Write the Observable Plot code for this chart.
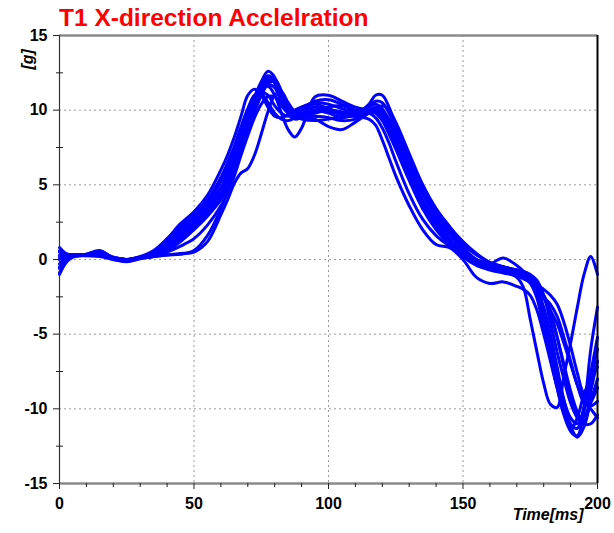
<!DOCTYPE html>
<html>
<head>
<meta charset="utf-8">
<script src="https://cdn.jsdelivr.net/npm/d3@7"></script>
<script src="https://cdn.jsdelivr.net/npm/@observablehq/plot@0.6"></script>
<style>
  html, body { margin: 0; padding: 0; background: #ffffff; }
  #title { height: 28px; box-sizing: border-box; padding-top: 6px; padding-left: 59px;
    font: bold 24.5px "Liberation Sans", Arial, sans-serif; line-height: 24px; color: #ff0000; white-space: nowrap; }
</style>
</head>
<body>
<div id="title">T1 X-direction Acclelration</div>
<div id="chart"></div>
<script>
const titleText = "T1 X-direction Acclelration";
const yLabel = "[g]";
const xLabel = "Time[ms]";
const xDomain = [0, 200];
const yDomain = [-15, 15];
const xMajorTicks = [0, 50, 100, 150, 200];
const xMinorTicks = [10, 20, 30, 40, 60, 70, 80, 90, 110, 120, 130, 140, 160, 170, 180, 190];
const yMajorTicks = [-15, -10, -5, 0, 5, 10, 15];
const yMinorTicks = [-12.5, -7.5, -2.5, 2.5, 7.5, 12.5];
const xGrid = [50, 100, 150];
const yGrid = [-10, -5, 0, 5, 10];

// sample times (ms)
const T = [0, 2.5, 5, 7.5, 10,
  15, 20, 25, 30, 35, 40, 45, 50, 55, 60,
  62.5, 65, 67.5, 70, 72.5, 75, 77.5, 80, 82.5, 85, 87.5, 90,
  95, 100, 105, 110, 115,
  117.5, 120, 122.5, 125,
  130, 135, 140, 145, 150, 155, 160, 165, 170,
  172.5, 175, 177.5, 180, 182.5, 185, 187.5, 190, 192.5, 195, 197.5, 200];

// acceleration [g] of each test
const runA = [0.8, 0.4, 0.3, 0.3, 0.35,
  0.6, 0.1, 0.0, 0.2, 0.6, 1.4, 2.4, 3.2, 4.3, 6.0,
  7.0, 8.2, 9.6, 11.0, 11.4, 11.0, 10.2, 9.6, 9.5, 9.7, 10.0, 10.2,
  10.4, 10.1, 9.8, 9.6, 9.8,
  9.5, 8.8, 7.8, 6.6,
  4.4, 2.7, 1.6, 0.9, 0.2, -0.3, -0.6, -0.8, -1.2,
  -1.9, -4.0, -6.2, -8.3, -9.7, -9.9, -7.8, -5.6, -3.2, -1.0, 0.2, -1.0];
const runB = [0.5, 0.3, 0.25, 0.3, 0.3,
  0.5, 0.1, 0.0, 0.15, 0.5, 1.2, 2.2, 3.0, 4.0, 5.5,
  6.5, 7.6, 8.9, 10.1, 11.0, 11.1, 10.5, 9.8, 9.4, 9.3, 9.5, 9.8,
  10.0, 9.9, 9.7, 9.6, 9.9,
  9.8, 9.3, 8.4, 7.4,
  5.3, 3.4, 2.0, 1.0, 0.2, -0.2, -0.5, -0.7, -1.0,
  -1.2, -1.5, -2.2, -4.0, -6.0, -8.0, -10.0, -11.5, -11.8, -10.2, -8.0, -6.0];
const runC = [-0.3, 0.1, 0.25, 0.3, 0.3,
  0.45, 0.1, -0.05, 0.15, 0.4, 1.0, 2.0, 2.8, 3.6, 4.8,
  5.8, 7.0, 8.3, 9.7, 10.9, 11.9, 12.6, 12.2, 10.8, 9.8, 9.4, 9.5,
  9.8, 10.0, 9.9, 9.8, 10.2,
  10.4, 10.1, 9.2, 8.2,
  6.0, 4.0, 2.5, 1.2, 0.3, -0.2, -0.5, -0.6, -0.9,
  -1.2, -1.6, -2.6, -4.6, -6.6, -8.6, -10.4, -11.4, -10.6, -9.0, -8.0, -7.2];
const runD = [-0.6, 0.0, 0.2, 0.25, 0.3,
  0.35, 0.05, -0.1, 0.1, 0.3, 0.8, 1.6, 2.4, 3.2, 4.4,
  5.3, 6.4, 7.7, 9.1, 10.4, 11.5, 12.2, 11.8, 10.6, 9.9, 9.9, 10.2,
  10.5, 10.4, 10.1, 9.9, 10.0,
  10.2, 10.0, 9.4, 8.5,
  6.4, 4.4, 2.8, 1.4, 0.4, -0.2, -0.4, -0.5, -0.8,
  -1.0, -1.3, -1.9, -3.4, -5.4, -7.5, -9.4, -10.6, -11.0, -10.0, -7.6, -5.2];
const runE = [0.2, 0.25, 0.3, 0.3, 0.25,
  0.2, 0.0, -0.1, 0.1, 0.25, 0.6, 1.2, 2.0, 2.9, 4.0,
  4.9, 6.0, 7.3, 8.6, 9.9, 11.0, 11.8, 11.9, 11.0, 10.2, 9.8, 9.7,
  9.6, 9.5, 9.3, 9.4, 9.8,
  10.0, 9.7, 9.0, 8.2,
  6.3, 4.5, 3.0, 1.7, 0.6, 0.0, -0.3, -0.5, -0.7,
  -0.8, -1.0, -1.4, -2.4, -4.2, -6.2, -8.0, -9.6, -10.5, -10.5, -9.6, -8.6];
const runF = [-0.9, -0.1, 0.2, 0.3, 0.3,
  0.4, 0.05, -0.1, 0.1, 0.35, 0.9, 1.8, 2.6, 3.4, 4.6,
  5.5, 6.6, 7.9, 9.2, 10.4, 11.3, 11.6, 11.0, 9.8, 8.7, 8.2, 8.8,
  10.9, 11.0, 10.6, 10.2, 10.0,
  9.9, 9.4, 8.5, 7.5,
  5.5, 3.6, 2.2, 1.1, 0.2, -0.4, -0.7, -0.9, -1.1,
  -1.3, -1.5, -1.8, -2.4, -3.5, -5.2, -7.0, -8.8, -10.2, -11.0, -11.0, -10.4];
const runG = [-1.0, -0.2, 0.15, 0.25, 0.25,
  0.3, 0.0, -0.15, 0.05, 0.2, 0.5, 0.9, 1.4, 2.3, 3.6,
  4.5, 5.6, 7.0, 8.3, 9.5, 10.4, 10.9, 10.9, 10.3, 9.8, 9.6, 9.6,
  9.4, 8.9, 8.7, 9.2, 9.8,
  10.0, 9.8, 9.2, 8.4,
  6.6, 4.8, 3.3, 2.0, 0.8, 0.0, -0.4, -0.6, -0.8,
  -1.0, -1.3, -1.8, -2.6, -3.4, -4.3, -5.6, -7.0, -8.4, -9.4, -10.0, -10.6];
const runH = [0.0, 0.2, 0.3, 0.3, 0.3,
  0.5, 0.15, 0.0, 0.1, 0.2, 0.3, 0.4, 0.5, 1.2, 3.0,
  4.0, 5.1, 5.8, 6.1, 7.0, 8.4, 9.9, 11.0, 11.2, 10.5, 9.9, 9.7,
  9.9, 10.2, 10.3, 10.0, 9.9,
  10.1, 10.3, 10.0, 9.2,
  7.1, 5.0, 3.4, 2.2, 1.0, 0.3, -0.2, -0.5, -0.7,
  -0.9, -1.2, -1.6, -2.4, -3.6, -5.2, -7.2, -9.2, -10.6, -10.8, -8.8, -6.8];
const runI = [0.6, 0.35, 0.3, 0.3, 0.35,
  0.55, 0.15, 0.0, 0.1, 0.2, 0.3, 0.35, 0.6, 1.6, 3.4,
  4.6, 6.0, 7.5, 9.0, 10.3, 11.3, 12.0, 12.1, 11.3, 10.3, 9.6, 9.4,
  9.3, 9.4, 9.6, 9.8, 10.3,
  10.6, 10.5, 9.8, 8.8,
  6.7, 4.7, 3.1, 1.8, 0.6, -0.1, -0.4, -0.6, -0.9,
  -1.1, -1.4, -2.0, -3.2, -5.0, -7.2, -9.4, -11.0, -11.3, -9.8, -6.0, -3.2];
const runJ = [-0.5, 0.0, 0.2, 0.3, 0.3,
  0.4, 0.1, -0.05, 0.1, 0.3, 0.7, 1.4, 2.2, 3.0, 4.2,
  5.1, 6.2, 7.5, 8.8, 10.0, 11.0, 11.7, 11.5, 10.5, 9.8, 9.6, 9.8,
  10.0, 9.8, 9.5, 9.7, 10.4,
  11.0, 11.0, 10.2, 9.0,
  6.9, 5.0, 3.4, 2.2, 1.2, 0.4, -0.2, -0.5, -1.0,
  -1.2, -1.5, -1.9, -2.5, -3.0, -3.8, -5.2, -6.8, -8.4, -9.6, -9.8, -9.5];
const runK = [0.3, 0.3, 0.3, 0.3, 0.3,
  0.45, 0.1, 0.0, 0.15, 0.4, 1.1, 2.0, 2.9, 3.8, 5.2,
  6.2, 7.4, 8.7, 9.9, 10.8, 11.2, 11.0, 10.3, 9.8, 9.6, 9.7, 10.0,
  10.2, 10.0, 9.8, 9.6, 9.4,
  9.0, 8.0, 6.8, 5.6,
  3.6, 2.0, 1.0, 0.8, 0.0, -1.2, -1.6, -1.5, -1.8,
  -2.0, -2.4, -3.4, -5.0, -6.8, -8.6, -10.2, -11.2, -11.9, -11.2, -9.5, -8.0];
const runL = [0.1, 0.2, 0.25, 0.3, 0.3,
  0.5, 0.1, 0.0, 0.15, 0.35, 0.8, 1.5, 2.3, 3.3, 4.6,
  5.6, 6.8, 8.1, 9.5, 10.7, 11.6, 12.3, 12.0, 10.9, 10.1, 9.9, 10.1,
  10.6, 10.7, 10.4, 10.0, 9.9,
  9.9, 9.6, 8.8, 7.8,
  5.7, 3.8, 2.3, 1.2, 0.3, -0.3, -0.3, 0.1, -0.4,
  -0.8, -1.3, -1.7, -2.0, -2.4, -3.0, -4.2, -5.8, -7.6, -9.0, -9.2, -8.6];

const runs = {A: runA, B: runB, C: runC, D: runD, E: runE, F: runF,
  G: runG, H: runH, I: runI, J: runJ, K: runK, L: runL};
const rows = [];
for (const [name, vals] of Object.entries(runs)) {
  vals.forEach((v, i) => rows.push({run: name, t: T[i], v}));
}

const font = "'Liberation Sans', Arial, sans-serif";
const fmt = d => String(d);
const noLabel = () => "";

const chart = Plot.plot({
  width: 614,
  height: 505,
  marginTop: 7,
  marginBottom: 50,
  marginLeft: 59,
  marginRight: 17,
  style: {fontFamily: font, fontSize: "16px", fontWeight: "bold", color: "#000", background: "#fff", overflow: "visible"},
  x: {domain: xDomain},
  y: {domain: yDomain},
  marks: [
    Plot.gridX(xGrid, {stroke: "#9a9a9a", strokeOpacity: 1, strokeDasharray: "2,3"}),
    Plot.gridY(yGrid, {stroke: "#9a9a9a", strokeOpacity: 1, strokeDasharray: "2,3"}),
    Plot.line(rows, {x: "t", y: "v", z: "run", stroke: "#0000ff", strokeWidth: 3, curve: "catmull-rom"}),
    Plot.ruleY([yDomain[1], yDomain[0]], {stroke: "#8a8a8a", strokeWidth: 2.5}),
    Plot.ruleX([xDomain[0]], {stroke: "#333", strokeWidth: 1.2}),
    Plot.ruleX([xDomain[1]], {stroke: "#000", strokeWidth: 2}),
    Plot.axisY(yMajorTicks, {tickSize: 6, tickPadding: 6, tickFormat: fmt, label: null, fontSize: 16, fontWeight: "bold", stroke: "#222"}),
    Plot.axisY(yMinorTicks, {tickSize: 3, tickFormat: noLabel, label: null, stroke: "#222"}),
    Plot.axisY(yMinorTicks, {tickSize: -4, tickFormat: noLabel, label: null, stroke: "#222"}),
    Plot.axisX(xMajorTicks, {tickSize: 6, tickPadding: 8, tickFormat: fmt, label: null, fontSize: 16, fontWeight: "bold", stroke: "#222"}),
    Plot.axisX(xMinorTicks, {tickSize: 4, tickFormat: noLabel, label: null, stroke: "#222"}),
    Plot.text([yLabel], {text: d => d, frameAnchor: "top-left", rotate: -90, dx: -38, dy: 34, fontStyle: "italic", fontWeight: "bold", fontSize: 16, fill: "#000"}),
    Plot.text([xLabel], {text: d => d, frameAnchor: "bottom-right", textAnchor: "end", dx: -14, dy: 36, fontStyle: "italic", fontWeight: "bold", fontSize: 16, fill: "#000"})
  ]
});
document.getElementById("chart").appendChild(chart);
</script>
</body>
</html>
